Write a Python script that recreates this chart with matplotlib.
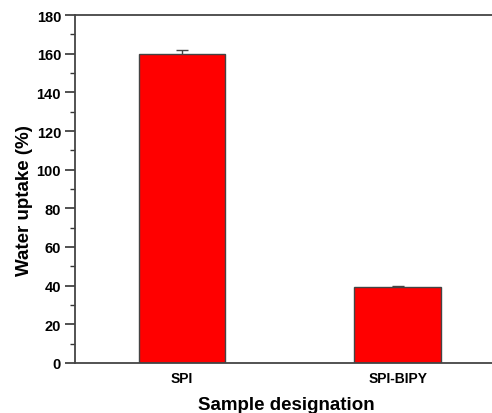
import matplotlib
matplotlib.use("Agg")
import matplotlib.pyplot as plt
import numpy as np
from matplotlib.ticker import MultipleLocator

plt.rcParams["font.family"] = ["Liberation Sans", "DejaVu Sans"]

samples = ["SPI", "SPI-BIPY"]
uptake = [160.0, 39.5]
uptake_err = [2.0, 0.3]

fig = plt.figure(figsize=(4.92, 4.14), dpi=100)
ax = fig.add_axes([75 / 492, 1 - 364 / 414, 1 - 75 / 492 + 0.01, 348 / 414])

x = np.arange(len(samples))
ax.errorbar(x, uptake, yerr=uptake_err, fmt="none", ecolor="#444444",
            elinewidth=1.0, capsize=4, capthick=1.0, zorder=1)
ax.bar(x, uptake, width=0.40, color="#ff0000", edgecolor="#444444", linewidth=1.0, zorder=2)

ax.set_xlim(-0.495, 1.46)
ax.set_ylim(0, 180)
ax.yaxis.set_major_locator(MultipleLocator(20))
ax.yaxis.set_minor_locator(MultipleLocator(10))
ax.set_xticks(x)
ax.set_xticklabels(samples, fontsize=10, fontweight="bold")
ax.tick_params(axis="x", length=0, pad=6)
ax.tick_params(axis="y", which="major", direction="out", length=7, width=1.2, labelsize=10.5,
               pad=3, colors="#333333", labelcolor="black")
ax.tick_params(axis="y", which="minor", direction="out", length=3.5, width=1.0, colors="#333333")
for lab in ax.get_yticklabels():
    lab.set_fontweight("bold")

for side in ["left", "top", "bottom"]:
    ax.spines[side].set_color("#444444")
    ax.spines[side].set_linewidth(1.3)
ax.spines["right"].set_visible(False)

ax.set_xlabel("Sample designation", fontsize=13.5, fontweight="bold", labelpad=8)
ax.set_ylabel("Water uptake (%)", fontsize=13.5, fontweight="bold")
ax.yaxis.set_label_coords(-0.10, 0.47)

fig.savefig("out.png", dpi=100)
